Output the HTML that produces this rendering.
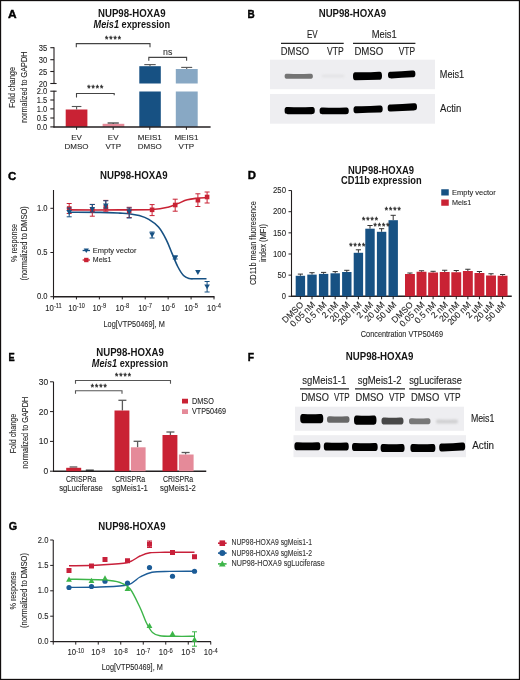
<!DOCTYPE html>
<html><head><meta charset="utf-8"><style>
html,body{margin:0;padding:0;background:#fff;}
svg{display:block;will-change:transform;font-family:"Liberation Sans", sans-serif;}
</style></head><body>
<svg width="520" height="680" viewBox="0 0 520 680" font-family='"Liberation Sans", sans-serif'>
<rect x="0" y="0" width="520" height="680" fill="#fff"/>
<text x="8" y="18.1" font-size="11.4" font-weight="bold" fill="#000" stroke="#000" stroke-width="0.4" textLength="8.6" lengthAdjust="spacingAndGlyphs">A</text>
<text x="98.00" y="17.00" font-size="10.0" font-weight="bold" fill="#151515" textLength="67.50" lengthAdjust="spacingAndGlyphs" >NUP98-HOXA9</text>
<text x="93.5" y="27.7" font-size="10.0" font-weight="bold" fill="#151515" textLength="76.5" lengthAdjust="spacingAndGlyphs"><tspan font-style="italic">Meis1</tspan> expression</text>
<line x1="54.00" y1="47.20" x2="54.00" y2="83.80" stroke="#231f20" stroke-width="1.1"/>
<line x1="54.00" y1="90.70" x2="54.00" y2="127.40" stroke="#231f20" stroke-width="1.1"/>
<line x1="50.30" y1="47.70" x2="54.00" y2="47.70" stroke="#231f20" stroke-width="1.1"/>
<text x="38.70" y="50.70" font-size="8.3" fill="#262626" textLength="8.50" lengthAdjust="spacingAndGlyphs" stroke="#262626" stroke-width="0.1">35</text>
<line x1="50.30" y1="59.70" x2="54.00" y2="59.70" stroke="#231f20" stroke-width="1.1"/>
<text x="38.70" y="62.70" font-size="8.3" fill="#262626" textLength="8.50" lengthAdjust="spacingAndGlyphs" stroke="#262626" stroke-width="0.1">30</text>
<line x1="50.30" y1="71.50" x2="54.00" y2="71.50" stroke="#231f20" stroke-width="1.1"/>
<text x="38.70" y="74.50" font-size="8.3" fill="#262626" textLength="8.50" lengthAdjust="spacingAndGlyphs" stroke="#262626" stroke-width="0.1">25</text>
<line x1="50.30" y1="83.50" x2="56.60" y2="83.50" stroke="#231f20" stroke-width="1.1"/>
<text x="38.70" y="86.50" font-size="8.3" fill="#262626" textLength="8.50" lengthAdjust="spacingAndGlyphs" stroke="#262626" stroke-width="0.1">20</text>
<line x1="50.30" y1="91.20" x2="56.60" y2="91.20" stroke="#231f20" stroke-width="1.1"/>
<text x="36.70" y="94.20" font-size="8.3" fill="#262626" textLength="10.50" lengthAdjust="spacingAndGlyphs" stroke="#262626" stroke-width="0.1">2.0</text>
<line x1="50.30" y1="100.00" x2="54.00" y2="100.00" stroke="#231f20" stroke-width="1.1"/>
<text x="36.70" y="103.00" font-size="8.3" fill="#262626" textLength="10.50" lengthAdjust="spacingAndGlyphs" stroke="#262626" stroke-width="0.1">1.5</text>
<line x1="50.30" y1="108.90" x2="54.00" y2="108.90" stroke="#231f20" stroke-width="1.1"/>
<text x="36.70" y="111.90" font-size="8.3" fill="#262626" textLength="10.50" lengthAdjust="spacingAndGlyphs" stroke="#262626" stroke-width="0.1">1.0</text>
<line x1="50.30" y1="118.00" x2="54.00" y2="118.00" stroke="#231f20" stroke-width="1.1"/>
<text x="36.70" y="121.00" font-size="8.3" fill="#262626" textLength="10.50" lengthAdjust="spacingAndGlyphs" stroke="#262626" stroke-width="0.1">0.5</text>
<line x1="50.30" y1="126.90" x2="54.00" y2="126.90" stroke="#231f20" stroke-width="1.1"/>
<text x="36.70" y="129.90" font-size="8.3" fill="#262626" textLength="10.50" lengthAdjust="spacingAndGlyphs" stroke="#262626" stroke-width="0.1">0.0</text>
<text transform="translate(15.49,87.30) rotate(-90)" x="-20.35" y="0" font-size="8.8" fill="#262626" textLength="40.70" lengthAdjust="spacingAndGlyphs" stroke="#262626" stroke-width="0.1">Fold change</text>
<text transform="translate(26.89,87.30) rotate(-90)" x="-35.75" y="0" font-size="8.8" fill="#262626" textLength="71.50" lengthAdjust="spacingAndGlyphs" stroke="#262626" stroke-width="0.1">normalized to GAPDH</text>
<rect x="65.70" y="109.50" width="21.70" height="17.40" fill="#c92234"/>
<line x1="76.60" y1="106.50" x2="76.60" y2="109.50" stroke="#555" stroke-width="1.1"/>
<line x1="71.80" y1="106.50" x2="81.40" y2="106.50" stroke="#555" stroke-width="1.1"/>
<rect x="102.60" y="123.80" width="21.70" height="3.10" fill="#e58a99"/>
<line x1="113.20" y1="123.00" x2="113.20" y2="123.80" stroke="#333" stroke-width="1.2"/>
<line x1="107.60" y1="123.00" x2="118.80" y2="123.00" stroke="#333" stroke-width="1.2"/>
<rect x="139.30" y="66.20" width="21.50" height="17.30" fill="#175183"/>
<rect x="139.30" y="91.50" width="21.50" height="35.40" fill="#175183"/>
<line x1="150.00" y1="64.60" x2="150.00" y2="66.20" stroke="#555" stroke-width="1.1"/>
<line x1="144.30" y1="64.60" x2="155.70" y2="64.60" stroke="#555" stroke-width="1.1"/>
<rect x="175.80" y="69.00" width="21.90" height="14.50" fill="#88a8c4"/>
<rect x="175.80" y="91.50" width="21.90" height="35.40" fill="#88a8c4"/>
<line x1="186.70" y1="67.40" x2="186.70" y2="69.00" stroke="#555" stroke-width="1.1"/>
<line x1="181.20" y1="67.40" x2="192.20" y2="67.40" stroke="#555" stroke-width="1.1"/>
<line x1="53.50" y1="127.00" x2="210.60" y2="127.00" stroke="#231f20" stroke-width="1.5"/>
<line x1="76.60" y1="127.00" x2="76.60" y2="129.80" stroke="#231f20" stroke-width="1"/>
<line x1="113.20" y1="127.00" x2="113.20" y2="129.80" stroke="#231f20" stroke-width="1"/>
<line x1="149.80" y1="127.00" x2="149.80" y2="129.80" stroke="#231f20" stroke-width="1"/>
<line x1="186.40" y1="127.00" x2="186.40" y2="129.80" stroke="#231f20" stroke-width="1"/>
<text x="76.6" y="140" font-size="8" fill="#262626" text-anchor="middle" stroke="#262626" stroke-width="0.1">EV</text>
<text x="76.6" y="149.2" font-size="8" fill="#262626" text-anchor="middle" stroke="#262626" stroke-width="0.1">DMSO</text>
<text x="113.2" y="140" font-size="8" fill="#262626" text-anchor="middle" stroke="#262626" stroke-width="0.1">EV</text>
<text x="113.2" y="149.2" font-size="8" fill="#262626" text-anchor="middle" stroke="#262626" stroke-width="0.1">VTP</text>
<text x="149.8" y="140" font-size="8" fill="#262626" text-anchor="middle" stroke="#262626" stroke-width="0.1">MEIS1</text>
<text x="149.8" y="149.2" font-size="8" fill="#262626" text-anchor="middle" stroke="#262626" stroke-width="0.1">DMSO</text>
<text x="186.4" y="140" font-size="8" fill="#262626" text-anchor="middle" stroke="#262626" stroke-width="0.1">MEIS1</text>
<text x="186.4" y="149.2" font-size="8" fill="#262626" text-anchor="middle" stroke="#262626" stroke-width="0.1">VTP</text>
<path d="M76.30,47.20 V43.60 H150.00 V47.20" stroke="#444" stroke-width="1.1" fill="none" />
<text x="105.00" y="42.16" font-size="8.5" fill="#2a2a2a" textLength="16.00" lengthAdjust="spacing" stroke="#2a2a2a" stroke-width="0.35">****</text>
<path d="M76.5,97.5 V93.5 H114.2 V95.2" stroke="#444" stroke-width="1.1" fill="none" />
<text x="87.30" y="91.16" font-size="8.5" fill="#2a2a2a" textLength="16.00" lengthAdjust="spacing" stroke="#2a2a2a" stroke-width="0.35">****</text>
<path d="M148.80,60.80 V57.40 H186.60 V60.80" stroke="#444" stroke-width="1.1" fill="none" />
<text x="163.05" y="54.60" font-size="9" font-weight="normal" fill="#333" textLength="9.30" lengthAdjust="spacingAndGlyphs" stroke="#333" stroke-width="0.1">ns</text>
<defs>
<filter id="bl1" x="-20%" y="-100%" width="140%" height="300%"><feGaussianBlur stdDeviation="0.75"/></filter>
<filter id="bl2" x="-20%" y="-100%" width="140%" height="300%"><feGaussianBlur stdDeviation="1.3"/></filter>
</defs>
<text x="247.5" y="18.2" font-size="11.4" font-weight="bold" fill="#000" stroke="#000" stroke-width="0.4" textLength="7.2" lengthAdjust="spacingAndGlyphs">B</text>
<text x="318.70" y="17.00" font-size="10.0" font-weight="bold" fill="#151515" textLength="67.30" lengthAdjust="spacingAndGlyphs" >NUP98-HOXA9</text>
<text x="307.00" y="38.00" font-size="10.0" font-weight="normal" fill="#1e1e1e" textLength="10.70" lengthAdjust="spacingAndGlyphs"  stroke="#1e1e1e" stroke-width="0.12">EV</text>
<text x="371.70" y="38.00" font-size="10.0" font-weight="normal" fill="#1e1e1e" textLength="25.00" lengthAdjust="spacingAndGlyphs"  stroke="#1e1e1e" stroke-width="0.12">Meis1</text>
<line x1="281.00" y1="43.40" x2="343.70" y2="43.40" stroke="#222" stroke-width="1.3"/>
<line x1="353.00" y1="43.40" x2="415.40" y2="43.40" stroke="#222" stroke-width="1.3"/>
<text x="280.80" y="54.80" font-size="10.0" font-weight="normal" fill="#1e1e1e" textLength="28.20" lengthAdjust="spacingAndGlyphs"  stroke="#1e1e1e" stroke-width="0.12">DMSO</text>
<text x="327.00" y="54.80" font-size="10.0" font-weight="normal" fill="#1e1e1e" textLength="16.70" lengthAdjust="spacingAndGlyphs"  stroke="#1e1e1e" stroke-width="0.12">VTP</text>
<text x="354.40" y="54.80" font-size="10.0" font-weight="normal" fill="#1e1e1e" textLength="28.90" lengthAdjust="spacingAndGlyphs"  stroke="#1e1e1e" stroke-width="0.12">DMSO</text>
<text x="398.70" y="54.80" font-size="10.0" font-weight="normal" fill="#1e1e1e" textLength="16.30" lengthAdjust="spacingAndGlyphs"  stroke="#1e1e1e" stroke-width="0.12">VTP</text>
<rect x="270.00" y="59.70" width="165.00" height="29.50" fill="#eeeef1"/>
<rect x="270.00" y="94.00" width="165.00" height="29.70" fill="#eeeef1"/>
<path d="M284.60,76.20 C284.60,73.58 286.35,73.70 288.10,73.70 Q298.75,74.08 309.40,73.70 C311.15,73.70 312.90,73.58 312.90,76.20 C312.90,78.83 311.15,78.70 309.40,78.70 Q298.75,78.70 288.10,78.70 C286.35,78.70 284.60,78.83 284.60,76.20 Z" fill="#666" fill-opacity="0.9" filter="url(#bl1)"/>
<path d="M321.50,76.00 C321.50,74.69 323.25,74.75 325.00,74.75 Q333.05,74.94 341.10,74.75 C342.85,74.75 344.60,74.69 344.60,76.00 C344.60,77.31 342.85,77.25 341.10,77.25 Q333.05,77.25 325.00,77.25 C323.25,77.25 321.50,77.31 321.50,76.00 Z" fill="#ccc" fill-opacity="0.35" filter="url(#bl2)"/>
<path d="M353.00,76.25 C353.00,71.94 354.75,72.15 356.50,72.15 Q367.50,72.52 378.50,71.65 C380.25,71.65 382.00,71.44 382.00,75.75 C382.00,80.06 380.25,79.85 378.50,79.85 Q367.50,80.10 356.50,80.35 C354.75,80.35 353.00,80.56 353.00,76.25 Z" fill="#000" fill-opacity="1.0" filter="url(#bl1)"/>
<path d="M388.00,75.10 C388.00,71.63 389.75,71.80 391.50,71.80 Q401.70,71.69 411.90,70.60 C413.65,70.60 415.40,70.44 415.40,73.90 C415.40,77.37 413.65,77.20 411.90,77.20 Q401.70,77.80 391.50,78.40 C389.75,78.40 388.00,78.56 388.00,75.10 Z" fill="#000" fill-opacity="1.0" filter="url(#bl1)"/>
<path d="M284.60,110.60 C284.60,106.82 286.35,107.00 288.10,107.00 Q299.70,107.54 311.30,107.00 C313.05,107.00 314.80,106.82 314.80,110.60 C314.80,114.38 313.05,114.20 311.30,114.20 Q299.70,114.20 288.10,114.20 C286.35,114.20 284.60,114.38 284.60,110.60 Z" fill="#000" fill-opacity="1.0" filter="url(#bl1)"/>
<path d="M319.60,110.80 C319.60,107.23 321.35,107.40 323.10,107.40 Q334.20,107.91 345.30,107.40 C347.05,107.40 348.80,107.23 348.80,110.80 C348.80,114.37 347.05,114.20 345.30,114.20 Q334.20,114.20 323.10,114.20 C321.35,114.20 319.60,114.37 319.60,110.80 Z" fill="#000" fill-opacity="1.0" filter="url(#bl1)"/>
<path d="M353.50,109.70 C353.50,106.03 355.25,106.20 357.00,106.20 Q368.10,106.43 379.20,105.60 C380.95,105.60 382.70,105.43 382.70,109.10 C382.70,112.78 380.95,112.60 379.20,112.60 Q368.10,112.90 357.00,113.20 C355.25,113.20 353.50,113.38 353.50,109.70 Z" fill="#000" fill-opacity="1.0" filter="url(#bl1)"/>
<path d="M387.70,108.00 C387.70,104.22 389.45,104.40 391.20,104.40 Q402.35,104.34 413.50,103.20 C415.25,103.20 417.00,103.02 417.00,106.80 C417.00,110.58 415.25,110.40 413.50,110.40 Q402.35,111.00 391.20,111.60 C389.45,111.60 387.70,111.78 387.70,108.00 Z" fill="#000" fill-opacity="1.0" filter="url(#bl1)"/>
<text x="439.80" y="77.70" font-size="10.0" font-weight="normal" fill="#1e1e1e" textLength="24.40" lengthAdjust="spacingAndGlyphs"  stroke="#1e1e1e" stroke-width="0.12">Meis1</text>
<text x="440.00" y="112.10" font-size="10.0" font-weight="normal" fill="#1e1e1e" textLength="21.30" lengthAdjust="spacingAndGlyphs"  stroke="#1e1e1e" stroke-width="0.12">Actin</text>
<text x="8" y="179.6" font-size="11.4" font-weight="bold" fill="#000" stroke="#000" stroke-width="0.4" textLength="8.3" lengthAdjust="spacingAndGlyphs">C</text>
<text x="100.00" y="179.20" font-size="10.0" font-weight="bold" fill="#151515" textLength="67.50" lengthAdjust="spacingAndGlyphs" >NUP98-HOXA9</text>
<line x1="53.50" y1="190.00" x2="53.50" y2="297.20" stroke="#231f20" stroke-width="1.1"/>
<line x1="50.40" y1="208.30" x2="53.50" y2="208.30" stroke="#231f20" stroke-width="1"/>
<text x="37.00" y="210.80" font-size="9.3" fill="#262626" textLength="10.60" lengthAdjust="spacingAndGlyphs" stroke="#262626" stroke-width="0.1">1.0</text>
<line x1="50.40" y1="252.50" x2="53.50" y2="252.50" stroke="#231f20" stroke-width="1"/>
<text x="37.00" y="255.00" font-size="9.3" fill="#262626" textLength="10.60" lengthAdjust="spacingAndGlyphs" stroke="#262626" stroke-width="0.1">0.5</text>
<line x1="50.40" y1="296.70" x2="53.50" y2="296.70" stroke="#231f20" stroke-width="1"/>
<text x="37.00" y="299.20" font-size="9.3" fill="#262626" textLength="10.60" lengthAdjust="spacingAndGlyphs" stroke="#262626" stroke-width="0.1">0.0</text>
<text transform="translate(17.32,243.00) rotate(-90)" x="-19.00" y="0" font-size="9.3" fill="#262626" textLength="38.00" lengthAdjust="spacingAndGlyphs" stroke="#262626" stroke-width="0.1">% response</text>
<text transform="translate(27.02,243.40) rotate(-90)" x="-37.20" y="0" font-size="9.3" fill="#262626" textLength="74.40" lengthAdjust="spacingAndGlyphs" stroke="#262626" stroke-width="0.1">(normalized to DMSO)</text>
<line x1="53.00" y1="296.70" x2="214.50" y2="296.70" stroke="#231f20" stroke-width="1.45"/>
<line x1="53.50" y1="296.70" x2="53.50" y2="299.40" stroke="#231f20" stroke-width="1"/>
<text x="45.30" y="310.80" font-size="9.3" font-weight="normal" fill="#262626" textLength="8.60" lengthAdjust="spacingAndGlyphs"  stroke="#262626" stroke-width="0.1">10</text>
<text x="53.90" y="307.90" font-size="6.882000000000001" font-weight="normal" fill="#262626" textLength="7.80" lengthAdjust="spacingAndGlyphs"  stroke="#262626" stroke-width="0.1">-11</text>
<line x1="76.43" y1="296.70" x2="76.43" y2="299.40" stroke="#231f20" stroke-width="1"/>
<text x="68.23" y="310.80" font-size="9.3" font-weight="normal" fill="#262626" textLength="8.60" lengthAdjust="spacingAndGlyphs"  stroke="#262626" stroke-width="0.1">10</text>
<text x="76.83" y="307.90" font-size="6.882000000000001" font-weight="normal" fill="#262626" textLength="7.80" lengthAdjust="spacingAndGlyphs"  stroke="#262626" stroke-width="0.1">-10</text>
<line x1="99.36" y1="296.70" x2="99.36" y2="299.40" stroke="#231f20" stroke-width="1"/>
<text x="92.46" y="310.80" font-size="9.3" font-weight="normal" fill="#262626" textLength="8.60" lengthAdjust="spacingAndGlyphs"  stroke="#262626" stroke-width="0.1">10</text>
<text x="101.06" y="307.90" font-size="6.882000000000001" font-weight="normal" fill="#262626" textLength="5.20" lengthAdjust="spacingAndGlyphs"  stroke="#262626" stroke-width="0.1">-9</text>
<line x1="122.29" y1="296.70" x2="122.29" y2="299.40" stroke="#231f20" stroke-width="1"/>
<text x="115.39" y="310.80" font-size="9.3" font-weight="normal" fill="#262626" textLength="8.60" lengthAdjust="spacingAndGlyphs"  stroke="#262626" stroke-width="0.1">10</text>
<text x="123.99" y="307.90" font-size="6.882000000000001" font-weight="normal" fill="#262626" textLength="5.20" lengthAdjust="spacingAndGlyphs"  stroke="#262626" stroke-width="0.1">-8</text>
<line x1="145.22" y1="296.70" x2="145.22" y2="299.40" stroke="#231f20" stroke-width="1"/>
<text x="138.32" y="310.80" font-size="9.3" font-weight="normal" fill="#262626" textLength="8.60" lengthAdjust="spacingAndGlyphs"  stroke="#262626" stroke-width="0.1">10</text>
<text x="146.92" y="307.90" font-size="6.882000000000001" font-weight="normal" fill="#262626" textLength="5.20" lengthAdjust="spacingAndGlyphs"  stroke="#262626" stroke-width="0.1">-7</text>
<line x1="168.15" y1="296.70" x2="168.15" y2="299.40" stroke="#231f20" stroke-width="1"/>
<text x="161.25" y="310.80" font-size="9.3" font-weight="normal" fill="#262626" textLength="8.60" lengthAdjust="spacingAndGlyphs"  stroke="#262626" stroke-width="0.1">10</text>
<text x="169.85" y="307.90" font-size="6.882000000000001" font-weight="normal" fill="#262626" textLength="5.20" lengthAdjust="spacingAndGlyphs"  stroke="#262626" stroke-width="0.1">-6</text>
<line x1="191.08" y1="296.70" x2="191.08" y2="299.40" stroke="#231f20" stroke-width="1"/>
<text x="184.18" y="310.80" font-size="9.3" font-weight="normal" fill="#262626" textLength="8.60" lengthAdjust="spacingAndGlyphs"  stroke="#262626" stroke-width="0.1">10</text>
<text x="192.78" y="307.90" font-size="6.882000000000001" font-weight="normal" fill="#262626" textLength="5.20" lengthAdjust="spacingAndGlyphs"  stroke="#262626" stroke-width="0.1">-5</text>
<line x1="214.01" y1="296.70" x2="214.01" y2="299.40" stroke="#231f20" stroke-width="1"/>
<text x="207.11" y="310.80" font-size="9.3" font-weight="normal" fill="#262626" textLength="8.60" lengthAdjust="spacingAndGlyphs"  stroke="#262626" stroke-width="0.1">10</text>
<text x="215.71" y="307.90" font-size="6.882000000000001" font-weight="normal" fill="#262626" textLength="5.20" lengthAdjust="spacingAndGlyphs"  stroke="#262626" stroke-width="0.1">-4</text>
<text x="103.50" y="326.70" font-size="9.8" font-weight="normal" fill="#262626" textLength="61.30" lengthAdjust="spacingAndGlyphs"  stroke="#262626" stroke-width="0.1">Log[VTP50469], M</text>
<path d="M69.20,212.30 C74.33,212.32 91.53,212.27 100.00,212.40 C108.47,212.53 115.17,212.88 120.00,213.10 C124.83,213.32 125.80,213.28 129.00,213.70 C132.20,214.12 135.90,214.65 139.20,215.60 C142.50,216.55 145.58,217.48 148.80,219.40 C152.02,221.32 155.60,223.73 158.50,227.10 C161.40,230.47 163.97,235.27 166.20,239.60 C168.43,243.93 169.98,248.62 171.90,253.10 C173.82,257.58 175.77,262.77 177.70,266.50 C179.63,270.23 181.58,273.50 183.50,275.50 C185.42,277.50 187.28,277.95 189.20,278.50 C191.12,279.05 192.12,278.75 195.00,278.80 C197.88,278.85 204.58,278.80 206.50,278.80" stroke="#175183" stroke-width="1.6" fill="none" />
<path d="M69.20,209.90 C77.67,209.90 106.18,209.97 120.00,209.90 C133.82,209.83 144.10,209.95 152.10,209.50 C160.10,209.05 163.73,208.18 168.00,207.20 C172.27,206.22 174.48,204.83 177.70,203.60 C180.92,202.37 184.10,200.68 187.30,199.80 C190.50,198.92 193.70,198.65 196.90,198.30 C200.10,197.95 204.90,197.80 206.50,197.70" stroke="#c92234" stroke-width="1.6" fill="none" />
<line x1="69.20" y1="203.50" x2="69.20" y2="213.50" stroke="#c92234" stroke-width="1"/>
<line x1="66.70" y1="203.50" x2="71.70" y2="203.50" stroke="#c92234" stroke-width="1"/>
<line x1="66.70" y1="213.50" x2="71.70" y2="213.50" stroke="#c92234" stroke-width="1"/>
<rect x="66.90" y="206.20" width="4.60" height="4.60" fill="#c92234"/>
<line x1="92.30" y1="204.40" x2="92.30" y2="216.20" stroke="#c92234" stroke-width="1"/>
<line x1="89.80" y1="204.40" x2="94.80" y2="204.40" stroke="#c92234" stroke-width="1"/>
<line x1="89.80" y1="216.20" x2="94.80" y2="216.20" stroke="#c92234" stroke-width="1"/>
<rect x="90.00" y="208.10" width="4.60" height="4.60" fill="#c92234"/>
<line x1="105.80" y1="200.40" x2="105.80" y2="211.20" stroke="#c92234" stroke-width="1"/>
<line x1="103.30" y1="200.40" x2="108.30" y2="200.40" stroke="#c92234" stroke-width="1"/>
<line x1="103.30" y1="211.20" x2="108.30" y2="211.20" stroke="#c92234" stroke-width="1"/>
<rect x="103.50" y="205.00" width="4.60" height="4.60" fill="#c92234"/>
<line x1="129.20" y1="207.30" x2="129.20" y2="217.50" stroke="#c92234" stroke-width="1"/>
<line x1="126.70" y1="207.30" x2="131.70" y2="207.30" stroke="#c92234" stroke-width="1"/>
<line x1="126.70" y1="217.50" x2="131.70" y2="217.50" stroke="#c92234" stroke-width="1"/>
<rect x="126.90" y="208.70" width="4.60" height="4.60" fill="#c92234"/>
<line x1="152.10" y1="204.60" x2="152.10" y2="215.60" stroke="#c92234" stroke-width="1"/>
<line x1="149.60" y1="204.60" x2="154.60" y2="204.60" stroke="#c92234" stroke-width="1"/>
<line x1="149.60" y1="215.60" x2="154.60" y2="215.60" stroke="#c92234" stroke-width="1"/>
<rect x="149.80" y="207.50" width="4.60" height="4.60" fill="#c92234"/>
<line x1="175.20" y1="199.20" x2="175.20" y2="211.20" stroke="#c92234" stroke-width="1"/>
<line x1="172.70" y1="199.20" x2="177.70" y2="199.20" stroke="#c92234" stroke-width="1"/>
<line x1="172.70" y1="211.20" x2="177.70" y2="211.20" stroke="#c92234" stroke-width="1"/>
<rect x="172.90" y="202.70" width="4.60" height="4.60" fill="#c92234"/>
<line x1="197.90" y1="193.80" x2="197.90" y2="206.50" stroke="#c92234" stroke-width="1"/>
<line x1="195.40" y1="193.80" x2="200.40" y2="193.80" stroke="#c92234" stroke-width="1"/>
<line x1="195.40" y1="206.50" x2="200.40" y2="206.50" stroke="#c92234" stroke-width="1"/>
<rect x="195.60" y="197.90" width="4.60" height="4.60" fill="#c92234"/>
<line x1="207.10" y1="192.00" x2="207.10" y2="203.00" stroke="#c92234" stroke-width="1"/>
<line x1="204.60" y1="192.00" x2="209.60" y2="192.00" stroke="#c92234" stroke-width="1"/>
<line x1="204.60" y1="203.00" x2="209.60" y2="203.00" stroke="#c92234" stroke-width="1"/>
<rect x="204.80" y="194.70" width="4.60" height="4.60" fill="#c92234"/>
<line x1="69.20" y1="208.00" x2="69.20" y2="216.80" stroke="#175183" stroke-width="1"/>
<line x1="66.70" y1="208.00" x2="71.70" y2="208.00" stroke="#175183" stroke-width="1"/>
<line x1="66.70" y1="216.80" x2="71.70" y2="216.80" stroke="#175183" stroke-width="1"/>
<path d="M66.40,210.10 H72.00 L69.20,215.00 Z" fill="#175183"/>
<line x1="92.30" y1="204.50" x2="92.30" y2="212.00" stroke="#175183" stroke-width="1"/>
<line x1="89.80" y1="204.50" x2="94.80" y2="204.50" stroke="#175183" stroke-width="1"/>
<line x1="89.80" y1="212.00" x2="94.80" y2="212.00" stroke="#175183" stroke-width="1"/>
<path d="M89.50,206.90 H95.10 L92.30,211.80 Z" fill="#175183"/>
<line x1="105.80" y1="200.80" x2="105.80" y2="208.00" stroke="#175183" stroke-width="1"/>
<line x1="103.30" y1="200.80" x2="108.30" y2="200.80" stroke="#175183" stroke-width="1"/>
<line x1="103.30" y1="208.00" x2="108.30" y2="208.00" stroke="#175183" stroke-width="1"/>
<path d="M103.00,203.50 H108.60 L105.80,208.40 Z" fill="#175183"/>
<line x1="129.20" y1="208.00" x2="129.20" y2="218.00" stroke="#175183" stroke-width="1"/>
<line x1="126.70" y1="208.00" x2="131.70" y2="208.00" stroke="#175183" stroke-width="1"/>
<line x1="126.70" y1="218.00" x2="131.70" y2="218.00" stroke="#175183" stroke-width="1"/>
<path d="M126.40,209.60 H132.00 L129.20,214.50 Z" fill="#175183"/>
<line x1="152.10" y1="232.00" x2="152.10" y2="238.00" stroke="#175183" stroke-width="1"/>
<line x1="149.60" y1="232.00" x2="154.60" y2="232.00" stroke="#175183" stroke-width="1"/>
<line x1="149.60" y1="238.00" x2="154.60" y2="238.00" stroke="#175183" stroke-width="1"/>
<path d="M149.30,232.50 H154.90 L152.10,237.40 Z" fill="#175183"/>
<line x1="175.20" y1="256.00" x2="175.20" y2="259.00" stroke="#175183" stroke-width="1"/>
<line x1="172.70" y1="256.00" x2="177.70" y2="256.00" stroke="#175183" stroke-width="1"/>
<line x1="172.70" y1="259.00" x2="177.70" y2="259.00" stroke="#175183" stroke-width="1"/>
<path d="M172.40,255.60 H178.00 L175.20,260.50 Z" fill="#175183"/>
<path d="M195.10,270.00 H200.70 L197.90,274.90 Z" fill="#175183"/>
<line x1="207.10" y1="281.50" x2="207.10" y2="292.00" stroke="#175183" stroke-width="1"/>
<line x1="204.60" y1="281.50" x2="209.60" y2="281.50" stroke="#175183" stroke-width="1"/>
<line x1="204.60" y1="292.00" x2="209.60" y2="292.00" stroke="#175183" stroke-width="1"/>
<path d="M204.30,284.40 H209.90 L207.10,289.30 Z" fill="#175183"/>
<line x1="82.60" y1="250.50" x2="90.00" y2="250.50" stroke="#175183" stroke-width="1.3"/>
<path d="M83.70,248.40 H88.90 L86.3,252.90 Z" fill="#175183"/>
<line x1="82.60" y1="260.00" x2="90.00" y2="260.00" stroke="#c92234" stroke-width="1.3"/>
<rect x="84.10" y="257.80" width="4.40" height="4.40" fill="#c92234"/>
<text x="92.80" y="253.00" font-size="7.9" font-weight="normal" fill="#262626" textLength="43.70" lengthAdjust="spacingAndGlyphs"  stroke="#262626" stroke-width="0.1">Empty vector</text>
<text x="92.80" y="262.30" font-size="7.9" font-weight="normal" fill="#262626" textLength="18.70" lengthAdjust="spacingAndGlyphs"  stroke="#262626" stroke-width="0.1">Meis1</text>
<text x="247.7" y="178.7" font-size="11.4" font-weight="bold" fill="#000" stroke="#000" stroke-width="0.4" textLength="8.2" lengthAdjust="spacingAndGlyphs">D</text>
<text x="348.00" y="173.50" font-size="10.0" font-weight="bold" fill="#151515" textLength="66.00" lengthAdjust="spacingAndGlyphs" >NUP98-HOXA9</text>
<text x="341.00" y="184.40" font-size="10.0" font-weight="bold" fill="#151515" textLength="80.70" lengthAdjust="spacingAndGlyphs" >CD11b expression</text>
<line x1="291.50" y1="190.40" x2="291.50" y2="296.80" stroke="#231f20" stroke-width="1.1"/>
<line x1="288.50" y1="296.30" x2="291.50" y2="296.30" stroke="#231f20" stroke-width="1"/>
<text x="281.80" y="299.00" font-size="9.3" fill="#262626" textLength="4.20" lengthAdjust="spacingAndGlyphs" stroke="#262626" stroke-width="0.1">0</text>
<line x1="288.50" y1="275.15" x2="291.50" y2="275.15" stroke="#231f20" stroke-width="1"/>
<text x="277.40" y="277.85" font-size="9.3" fill="#262626" textLength="8.60" lengthAdjust="spacingAndGlyphs" stroke="#262626" stroke-width="0.1">50</text>
<line x1="288.50" y1="254.00" x2="291.50" y2="254.00" stroke="#231f20" stroke-width="1"/>
<text x="273.00" y="256.70" font-size="9.3" fill="#262626" textLength="13.00" lengthAdjust="spacingAndGlyphs" stroke="#262626" stroke-width="0.1">100</text>
<line x1="288.50" y1="232.85" x2="291.50" y2="232.85" stroke="#231f20" stroke-width="1"/>
<text x="273.00" y="235.55" font-size="9.3" fill="#262626" textLength="13.00" lengthAdjust="spacingAndGlyphs" stroke="#262626" stroke-width="0.1">150</text>
<line x1="288.50" y1="211.70" x2="291.50" y2="211.70" stroke="#231f20" stroke-width="1"/>
<text x="273.00" y="214.40" font-size="9.3" fill="#262626" textLength="13.00" lengthAdjust="spacingAndGlyphs" stroke="#262626" stroke-width="0.1">200</text>
<line x1="288.50" y1="190.55" x2="291.50" y2="190.55" stroke="#231f20" stroke-width="1"/>
<text x="273.00" y="193.25" font-size="9.3" fill="#262626" textLength="13.00" lengthAdjust="spacingAndGlyphs" stroke="#262626" stroke-width="0.1">250</text>
<text transform="translate(255.62,243.10) rotate(-90)" x="-42.00" y="0" font-size="9.3" fill="#262626" textLength="84.00" lengthAdjust="spacingAndGlyphs" stroke="#262626" stroke-width="0.1">CD11b mean fluoresence</text>
<text transform="translate(266.22,243.00) rotate(-90)" x="-19.00" y="0" font-size="9.3" fill="#262626" textLength="38.00" lengthAdjust="spacingAndGlyphs" stroke="#262626" stroke-width="0.1">index (MFI)</text>
<line x1="291.00" y1="296.30" x2="511.75" y2="296.30" stroke="#231f20" stroke-width="1.45"/>
<line x1="300.40" y1="274.10" x2="300.40" y2="275.80" stroke="#333" stroke-width="1"/>
<line x1="297.80" y1="274.10" x2="303.00" y2="274.10" stroke="#333" stroke-width="1"/>
<rect x="295.70" y="275.80" width="9.40" height="20.50" fill="#175183"/>
<line x1="300.40" y1="296.30" x2="300.40" y2="299.30" stroke="#231f20" stroke-width="1"/>
<text transform="translate(304.00,305.10) rotate(-45)" x="0" y="0" font-size="8.7" fill="#262626" text-anchor="end" stroke="#262626" stroke-width="0.1">DMSO</text>
<line x1="312.00" y1="272.70" x2="312.00" y2="274.60" stroke="#333" stroke-width="1"/>
<line x1="309.40" y1="272.70" x2="314.60" y2="272.70" stroke="#333" stroke-width="1"/>
<rect x="307.30" y="274.60" width="9.40" height="21.70" fill="#175183"/>
<line x1="312.00" y1="296.30" x2="312.00" y2="299.30" stroke="#231f20" stroke-width="1"/>
<text transform="translate(315.60,305.10) rotate(-45)" x="0" y="0" font-size="8.7" fill="#262626" text-anchor="end" stroke="#262626" stroke-width="0.1">0.05 nM</text>
<line x1="323.60" y1="272.40" x2="323.60" y2="273.90" stroke="#333" stroke-width="1"/>
<line x1="321.00" y1="272.40" x2="326.20" y2="272.40" stroke="#333" stroke-width="1"/>
<rect x="318.90" y="273.90" width="9.40" height="22.40" fill="#175183"/>
<line x1="323.60" y1="296.30" x2="323.60" y2="299.30" stroke="#231f20" stroke-width="1"/>
<text transform="translate(327.20,305.10) rotate(-45)" x="0" y="0" font-size="8.7" fill="#262626" text-anchor="end" stroke="#262626" stroke-width="0.1">0.5 nM</text>
<line x1="335.20" y1="271.60" x2="335.20" y2="273.30" stroke="#333" stroke-width="1"/>
<line x1="332.60" y1="271.60" x2="337.80" y2="271.60" stroke="#333" stroke-width="1"/>
<rect x="330.50" y="273.30" width="9.40" height="23.00" fill="#175183"/>
<line x1="335.20" y1="296.30" x2="335.20" y2="299.30" stroke="#231f20" stroke-width="1"/>
<text transform="translate(338.80,305.10) rotate(-45)" x="0" y="0" font-size="8.7" fill="#262626" text-anchor="end" stroke="#262626" stroke-width="0.1">2 nM</text>
<line x1="346.80" y1="270.30" x2="346.80" y2="272.00" stroke="#333" stroke-width="1"/>
<line x1="344.20" y1="270.30" x2="349.40" y2="270.30" stroke="#333" stroke-width="1"/>
<rect x="342.10" y="272.00" width="9.40" height="24.30" fill="#175183"/>
<line x1="346.80" y1="296.30" x2="346.80" y2="299.30" stroke="#231f20" stroke-width="1"/>
<text transform="translate(350.40,305.10) rotate(-45)" x="0" y="0" font-size="8.7" fill="#262626" text-anchor="end" stroke="#262626" stroke-width="0.1">20 nM</text>
<line x1="358.40" y1="249.80" x2="358.40" y2="252.80" stroke="#333" stroke-width="1"/>
<line x1="355.80" y1="249.80" x2="361.00" y2="249.80" stroke="#333" stroke-width="1"/>
<rect x="353.70" y="252.80" width="9.40" height="43.50" fill="#175183"/>
<line x1="358.40" y1="296.30" x2="358.40" y2="299.30" stroke="#231f20" stroke-width="1"/>
<text transform="translate(362.00,305.10) rotate(-45)" x="0" y="0" font-size="8.7" fill="#262626" text-anchor="end" stroke="#262626" stroke-width="0.1">200 nM</text>
<line x1="370.00" y1="225.50" x2="370.00" y2="228.70" stroke="#333" stroke-width="1"/>
<line x1="367.40" y1="225.50" x2="372.60" y2="225.50" stroke="#333" stroke-width="1"/>
<rect x="365.30" y="228.70" width="9.40" height="67.60" fill="#175183"/>
<line x1="370.00" y1="296.30" x2="370.00" y2="299.30" stroke="#231f20" stroke-width="1"/>
<text transform="translate(373.60,305.10) rotate(-45)" x="0" y="0" font-size="8.7" fill="#262626" text-anchor="end" stroke="#262626" stroke-width="0.1">2 uM</text>
<line x1="381.60" y1="228.70" x2="381.60" y2="231.80" stroke="#333" stroke-width="1"/>
<line x1="379.00" y1="228.70" x2="384.20" y2="228.70" stroke="#333" stroke-width="1"/>
<rect x="376.90" y="231.80" width="9.40" height="64.50" fill="#175183"/>
<line x1="381.60" y1="296.30" x2="381.60" y2="299.30" stroke="#231f20" stroke-width="1"/>
<text transform="translate(385.20,305.10) rotate(-45)" x="0" y="0" font-size="8.7" fill="#262626" text-anchor="end" stroke="#262626" stroke-width="0.1">20 uM</text>
<line x1="393.20" y1="215.30" x2="393.20" y2="220.20" stroke="#333" stroke-width="1"/>
<line x1="390.60" y1="215.30" x2="395.80" y2="215.30" stroke="#333" stroke-width="1"/>
<rect x="388.50" y="220.20" width="9.40" height="76.10" fill="#175183"/>
<line x1="393.20" y1="296.30" x2="393.20" y2="299.30" stroke="#231f20" stroke-width="1"/>
<text transform="translate(396.80,305.10) rotate(-45)" x="0" y="0" font-size="8.7" fill="#262626" text-anchor="end" stroke="#262626" stroke-width="0.1">50 uM</text>
<line x1="409.95" y1="273.00" x2="409.95" y2="274.00" stroke="#333" stroke-width="1"/>
<line x1="407.35" y1="273.00" x2="412.55" y2="273.00" stroke="#333" stroke-width="1"/>
<rect x="405.00" y="274.00" width="9.90" height="22.30" fill="#c92234"/>
<line x1="409.95" y1="296.30" x2="409.95" y2="299.30" stroke="#231f20" stroke-width="1"/>
<text transform="translate(413.55,305.10) rotate(-45)" x="0" y="0" font-size="8.7" fill="#262626" text-anchor="end" stroke="#262626" stroke-width="0.1">DMSO</text>
<line x1="421.53" y1="270.75" x2="421.53" y2="271.75" stroke="#333" stroke-width="1"/>
<line x1="418.93" y1="270.75" x2="424.13" y2="270.75" stroke="#333" stroke-width="1"/>
<rect x="416.58" y="271.75" width="9.90" height="24.55" fill="#c92234"/>
<line x1="421.53" y1="296.30" x2="421.53" y2="299.30" stroke="#231f20" stroke-width="1"/>
<text transform="translate(425.13,305.10) rotate(-45)" x="0" y="0" font-size="8.7" fill="#262626" text-anchor="end" stroke="#262626" stroke-width="0.1">0.05 nM</text>
<line x1="433.11" y1="271.30" x2="433.11" y2="272.50" stroke="#333" stroke-width="1"/>
<line x1="430.51" y1="271.30" x2="435.71" y2="271.30" stroke="#333" stroke-width="1"/>
<rect x="428.16" y="272.50" width="9.90" height="23.80" fill="#c92234"/>
<line x1="433.11" y1="296.30" x2="433.11" y2="299.30" stroke="#231f20" stroke-width="1"/>
<text transform="translate(436.71,305.10) rotate(-45)" x="0" y="0" font-size="8.7" fill="#262626" text-anchor="end" stroke="#262626" stroke-width="0.1">0.5 nM</text>
<line x1="444.69" y1="270.25" x2="444.69" y2="272.00" stroke="#333" stroke-width="1"/>
<line x1="442.09" y1="270.25" x2="447.29" y2="270.25" stroke="#333" stroke-width="1"/>
<rect x="439.74" y="272.00" width="9.90" height="24.30" fill="#c92234"/>
<line x1="444.69" y1="296.30" x2="444.69" y2="299.30" stroke="#231f20" stroke-width="1"/>
<text transform="translate(448.29,305.10) rotate(-45)" x="0" y="0" font-size="8.7" fill="#262626" text-anchor="end" stroke="#262626" stroke-width="0.1">2 nM</text>
<line x1="456.27" y1="270.50" x2="456.27" y2="272.25" stroke="#333" stroke-width="1"/>
<line x1="453.67" y1="270.50" x2="458.87" y2="270.50" stroke="#333" stroke-width="1"/>
<rect x="451.32" y="272.25" width="9.90" height="24.05" fill="#c92234"/>
<line x1="456.27" y1="296.30" x2="456.27" y2="299.30" stroke="#231f20" stroke-width="1"/>
<text transform="translate(459.87,305.10) rotate(-45)" x="0" y="0" font-size="8.7" fill="#262626" text-anchor="end" stroke="#262626" stroke-width="0.1">20 nM</text>
<line x1="467.85" y1="269.25" x2="467.85" y2="271.00" stroke="#333" stroke-width="1"/>
<line x1="465.25" y1="269.25" x2="470.45" y2="269.25" stroke="#333" stroke-width="1"/>
<rect x="462.90" y="271.00" width="9.90" height="25.30" fill="#c92234"/>
<line x1="467.85" y1="296.30" x2="467.85" y2="299.30" stroke="#231f20" stroke-width="1"/>
<text transform="translate(471.45,305.10) rotate(-45)" x="0" y="0" font-size="8.7" fill="#262626" text-anchor="end" stroke="#262626" stroke-width="0.1">200 nM</text>
<line x1="479.43" y1="271.50" x2="479.43" y2="273.00" stroke="#333" stroke-width="1"/>
<line x1="476.83" y1="271.50" x2="482.03" y2="271.50" stroke="#333" stroke-width="1"/>
<rect x="474.48" y="273.00" width="9.90" height="23.30" fill="#c92234"/>
<line x1="479.43" y1="296.30" x2="479.43" y2="299.30" stroke="#231f20" stroke-width="1"/>
<text transform="translate(483.03,305.10) rotate(-45)" x="0" y="0" font-size="8.7" fill="#262626" text-anchor="end" stroke="#262626" stroke-width="0.1">2 uM</text>
<line x1="491.01" y1="273.75" x2="491.01" y2="275.50" stroke="#333" stroke-width="1"/>
<line x1="488.41" y1="273.75" x2="493.61" y2="273.75" stroke="#333" stroke-width="1"/>
<rect x="486.06" y="275.50" width="9.90" height="20.80" fill="#c92234"/>
<line x1="491.01" y1="296.30" x2="491.01" y2="299.30" stroke="#231f20" stroke-width="1"/>
<text transform="translate(494.61,305.10) rotate(-45)" x="0" y="0" font-size="8.7" fill="#262626" text-anchor="end" stroke="#262626" stroke-width="0.1">20 uM</text>
<line x1="502.59" y1="274.50" x2="502.59" y2="275.75" stroke="#333" stroke-width="1"/>
<line x1="499.99" y1="274.50" x2="505.19" y2="274.50" stroke="#333" stroke-width="1"/>
<rect x="497.64" y="275.75" width="9.90" height="20.55" fill="#c92234"/>
<line x1="502.59" y1="296.30" x2="502.59" y2="299.30" stroke="#231f20" stroke-width="1"/>
<text transform="translate(506.19,305.10) rotate(-45)" x="0" y="0" font-size="8.7" fill="#262626" text-anchor="end" stroke="#262626" stroke-width="0.1">50 uM</text>
<text x="349.30" y="248.56" font-size="8.5" fill="#2a2a2a" textLength="16.00" lengthAdjust="spacing" stroke="#2a2a2a" stroke-width="0.35">****</text>
<text x="362.00" y="223.16" font-size="8.5" fill="#2a2a2a" textLength="16.00" lengthAdjust="spacing" stroke="#2a2a2a" stroke-width="0.35">****</text>
<text x="373.50" y="229.26" font-size="8.5" fill="#2a2a2a" textLength="16.00" lengthAdjust="spacing" stroke="#2a2a2a" stroke-width="0.35">****</text>
<text x="384.70" y="213.06" font-size="8.5" fill="#2a2a2a" textLength="16.00" lengthAdjust="spacing" stroke="#2a2a2a" stroke-width="0.35">****</text>
<text x="360.80" y="337.00" font-size="9.8" font-weight="normal" fill="#262626" textLength="82.20" lengthAdjust="spacingAndGlyphs"  stroke="#262626" stroke-width="0.1">Concentration VTP50469</text>
<rect x="441.25" y="189.25" width="7.50" height="6.25" fill="#175183"/>
<rect x="441.25" y="199.50" width="7.50" height="6.25" fill="#c92234"/>
<text x="452.00" y="194.80" font-size="7.9" font-weight="normal" fill="#262626" textLength="43.75" lengthAdjust="spacingAndGlyphs"  stroke="#262626" stroke-width="0.1">Empty vector</text>
<text x="452.00" y="205.20" font-size="7.9" font-weight="normal" fill="#262626" textLength="19.25" lengthAdjust="spacingAndGlyphs"  stroke="#262626" stroke-width="0.1">Meis1</text>
<text x="8.5" y="360.8" font-size="11.4" font-weight="bold" fill="#000" stroke="#000" stroke-width="0.4" textLength="6.2" lengthAdjust="spacingAndGlyphs">E</text>
<text x="96.25" y="355.50" font-size="10.0" font-weight="bold" fill="#151515" textLength="67.50" lengthAdjust="spacingAndGlyphs" >NUP98-HOXA9</text>
<text x="91.8" y="366.5" font-size="10.0" font-weight="bold" fill="#151515" textLength="76.2" lengthAdjust="spacingAndGlyphs"><tspan font-style="italic">Meis1</tspan> expression</text>
<line x1="53.50" y1="381.80" x2="53.50" y2="471.70" stroke="#231f20" stroke-width="1.1"/>
<line x1="50.00" y1="471.20" x2="53.50" y2="471.20" stroke="#231f20" stroke-width="1"/>
<text x="43.50" y="474.20" font-size="8.6" fill="#262626" textLength="4.70" lengthAdjust="spacingAndGlyphs" stroke="#262626" stroke-width="0.1">0</text>
<line x1="50.00" y1="441.40" x2="53.50" y2="441.40" stroke="#231f20" stroke-width="1"/>
<text x="38.80" y="444.40" font-size="8.6" fill="#262626" textLength="9.40" lengthAdjust="spacingAndGlyphs" stroke="#262626" stroke-width="0.1">10</text>
<line x1="50.00" y1="411.60" x2="53.50" y2="411.60" stroke="#231f20" stroke-width="1"/>
<text x="38.80" y="414.60" font-size="8.6" fill="#262626" textLength="9.40" lengthAdjust="spacingAndGlyphs" stroke="#262626" stroke-width="0.1">20</text>
<line x1="50.00" y1="381.80" x2="53.50" y2="381.80" stroke="#231f20" stroke-width="1"/>
<text x="38.80" y="384.80" font-size="8.6" fill="#262626" textLength="9.40" lengthAdjust="spacingAndGlyphs" stroke="#262626" stroke-width="0.1">30</text>
<text transform="translate(16.04,433.50) rotate(-90)" x="-19.80" y="0" font-size="8.8" fill="#262626" textLength="39.60" lengthAdjust="spacingAndGlyphs" stroke="#262626" stroke-width="0.1">Fold change</text>
<text transform="translate(28.19,432.70) rotate(-90)" x="-36.00" y="0" font-size="8.8" fill="#262626" textLength="72.00" lengthAdjust="spacingAndGlyphs" stroke="#262626" stroke-width="0.1">normalized to GAPDH</text>
<line x1="53.00" y1="471.20" x2="206.25" y2="471.20" stroke="#231f20" stroke-width="1.45"/>
<rect x="69.60" y="466.20" width="7.70" height="1.60" fill="#777"/>
<rect x="66.20" y="467.80" width="15.00" height="3.40" fill="#c92234"/>
<line x1="85.80" y1="470.20" x2="93.80" y2="470.20" stroke="#222" stroke-width="1.3"/>
<line x1="122.40" y1="400.30" x2="122.40" y2="410.50" stroke="#5a5a5a" stroke-width="1.3"/>
<line x1="118.40" y1="400.30" x2="126.40" y2="400.30" stroke="#5a5a5a" stroke-width="1.3"/>
<rect x="114.50" y="410.50" width="14.90" height="60.70" fill="#c92234"/>
<line x1="137.60" y1="441.30" x2="137.60" y2="447.30" stroke="#5a5a5a" stroke-width="1.3"/>
<line x1="133.60" y1="441.30" x2="141.60" y2="441.30" stroke="#5a5a5a" stroke-width="1.3"/>
<rect x="130.90" y="447.30" width="14.70" height="23.90" fill="#e58a99"/>
<line x1="170.40" y1="432.00" x2="170.40" y2="435.00" stroke="#5a5a5a" stroke-width="1.3"/>
<line x1="166.40" y1="432.00" x2="174.40" y2="432.00" stroke="#5a5a5a" stroke-width="1.3"/>
<rect x="162.50" y="435.00" width="14.90" height="36.20" fill="#c92234"/>
<line x1="185.60" y1="452.50" x2="185.60" y2="454.50" stroke="#5a5a5a" stroke-width="1.3"/>
<line x1="181.60" y1="452.50" x2="189.60" y2="452.50" stroke="#5a5a5a" stroke-width="1.3"/>
<rect x="178.90" y="454.50" width="14.70" height="16.70" fill="#e58a99"/>
<text x="65.90" y="481.60" font-size="8.6" font-weight="normal" fill="#262626" textLength="30.20" lengthAdjust="spacingAndGlyphs" stroke="#262626" stroke-width="0.1">CRISPRa</text>
<text x="114.90" y="481.60" font-size="8.6" font-weight="normal" fill="#262626" textLength="30.20" lengthAdjust="spacingAndGlyphs" stroke="#262626" stroke-width="0.1">CRISPRa</text>
<text x="162.90" y="481.60" font-size="8.6" font-weight="normal" fill="#262626" textLength="30.20" lengthAdjust="spacingAndGlyphs" stroke="#262626" stroke-width="0.1">CRISPRa</text>
<text x="59.15" y="490.90" font-size="8.6" font-weight="normal" fill="#262626" textLength="43.70" lengthAdjust="spacingAndGlyphs" stroke="#262626" stroke-width="0.1">sgLuciferase</text>
<text x="112.10" y="490.90" font-size="8.6" font-weight="normal" fill="#262626" textLength="35.80" lengthAdjust="spacingAndGlyphs" stroke="#262626" stroke-width="0.1">sgMeis1-1</text>
<text x="160.10" y="490.90" font-size="8.6" font-weight="normal" fill="#262626" textLength="35.80" lengthAdjust="spacingAndGlyphs" stroke="#262626" stroke-width="0.1">sgMeis1-2</text>
<path d="M75.50,383.75 V380.50 H170.50 V383.75" stroke="#555" stroke-width="1.1" fill="none" />
<text x="115.00" y="379.46" font-size="8.5" fill="#2a2a2a" textLength="16.00" lengthAdjust="spacing" stroke="#2a2a2a" stroke-width="0.35">****</text>
<path d="M75.50,393.75 V390.75 H122.00 V393.75" stroke="#555" stroke-width="1.1" fill="none" />
<text x="90.75" y="390.21" font-size="8.5" fill="#2a2a2a" textLength="16.00" lengthAdjust="spacing" stroke="#2a2a2a" stroke-width="0.35">****</text>
<rect x="182.00" y="398.75" width="6.00" height="4.75" fill="#c92234"/>
<rect x="182.00" y="409.25" width="6.00" height="4.75" fill="#e58a99"/>
<text x="192.00" y="404.00" font-size="8.6" font-weight="normal" fill="#262626" textLength="21.80" lengthAdjust="spacingAndGlyphs"  stroke="#262626" stroke-width="0.1">DMSO</text>
<text x="192.00" y="414.00" font-size="8.6" font-weight="normal" fill="#262626" textLength="34.00" lengthAdjust="spacingAndGlyphs"  stroke="#262626" stroke-width="0.1">VTP50469</text>
<text x="247.7" y="360.7" font-size="11.4" font-weight="bold" fill="#000" stroke="#000" stroke-width="0.4" textLength="6.3" lengthAdjust="spacingAndGlyphs">F</text>
<text x="345.70" y="360.40" font-size="10.0" font-weight="bold" fill="#151515" textLength="67.80" lengthAdjust="spacingAndGlyphs" >NUP98-HOXA9</text>
<text x="302.30" y="383.50" font-size="10.0" font-weight="normal" fill="#1e1e1e" textLength="43.90" lengthAdjust="spacingAndGlyphs"  stroke="#1e1e1e" stroke-width="0.12">sgMeis1-1</text>
<text x="357.70" y="383.50" font-size="10.0" font-weight="normal" fill="#1e1e1e" textLength="43.80" lengthAdjust="spacingAndGlyphs"  stroke="#1e1e1e" stroke-width="0.12">sgMeis1-2</text>
<text x="409.20" y="383.50" font-size="10.0" font-weight="normal" fill="#1e1e1e" textLength="52.60" lengthAdjust="spacingAndGlyphs"  stroke="#1e1e1e" stroke-width="0.12">sgLuciferase</text>
<line x1="300.00" y1="388.80" x2="349.00" y2="388.80" stroke="#222" stroke-width="1.3"/>
<line x1="355.00" y1="388.80" x2="405.00" y2="388.80" stroke="#222" stroke-width="1.3"/>
<line x1="409.20" y1="388.80" x2="460.50" y2="388.80" stroke="#222" stroke-width="1.3"/>
<text x="301.20" y="400.80" font-size="10.0" font-weight="normal" fill="#1e1e1e" textLength="27.60" lengthAdjust="spacingAndGlyphs"  stroke="#1e1e1e" stroke-width="0.12">DMSO</text>
<text x="334.00" y="400.80" font-size="10.0" font-weight="normal" fill="#1e1e1e" textLength="15.60" lengthAdjust="spacingAndGlyphs"  stroke="#1e1e1e" stroke-width="0.12">VTP</text>
<text x="355.40" y="400.80" font-size="10.0" font-weight="normal" fill="#1e1e1e" textLength="28.10" lengthAdjust="spacingAndGlyphs"  stroke="#1e1e1e" stroke-width="0.12">DMSO</text>
<text x="388.90" y="400.80" font-size="10.0" font-weight="normal" fill="#1e1e1e" textLength="16.10" lengthAdjust="spacingAndGlyphs"  stroke="#1e1e1e" stroke-width="0.12">VTP</text>
<text x="411.00" y="400.80" font-size="10.0" font-weight="normal" fill="#1e1e1e" textLength="28.20" lengthAdjust="spacingAndGlyphs"  stroke="#1e1e1e" stroke-width="0.12">DMSO</text>
<text x="444.30" y="400.80" font-size="10.0" font-weight="normal" fill="#1e1e1e" textLength="16.20" lengthAdjust="spacingAndGlyphs"  stroke="#1e1e1e" stroke-width="0.12">VTP</text>
<rect x="295.00" y="406.70" width="169.00" height="24.10" fill="#eeeef1"/>
<rect x="293.50" y="435.20" width="172.50" height="22.00" fill="#eeeef1"/>
<path d="M300.20,418.60 C300.20,413.72 301.95,413.95 303.70,413.95 Q311.75,414.65 319.80,413.95 C321.55,413.95 323.30,413.72 323.30,418.60 C323.30,423.48 321.55,423.25 319.80,423.25 Q311.75,423.25 303.70,423.25 C301.95,423.25 300.20,423.48 300.20,418.60 Z" fill="#000" fill-opacity="1.0" filter="url(#bl1)"/>
<path d="M327.00,419.60 C327.00,416.19 328.75,416.35 330.50,416.35 Q338.25,416.84 346.00,416.35 C347.75,416.35 349.50,416.19 349.50,419.60 C349.50,423.01 347.75,422.85 346.00,422.85 Q338.25,422.85 330.50,422.85 C328.75,422.85 327.00,423.01 327.00,419.60 Z" fill="#505050" fill-opacity="0.85" filter="url(#bl1)"/>
<path d="M354.00,420.10 C354.00,415.22 355.75,415.45 357.50,415.45 Q365.25,416.15 373.00,415.45 C374.75,415.45 376.50,415.22 376.50,420.10 C376.50,424.98 374.75,424.75 373.00,424.75 Q365.25,424.75 357.50,424.75 C355.75,424.75 354.00,424.98 354.00,420.10 Z" fill="#000" fill-opacity="1.0" filter="url(#bl1)"/>
<path d="M381.50,421.00 C381.50,417.32 383.25,417.50 385.00,417.50 Q392.50,418.02 400.00,417.50 C401.75,417.50 403.50,417.32 403.50,421.00 C403.50,424.68 401.75,424.50 400.00,424.50 Q392.50,424.50 385.00,424.50 C383.25,424.50 381.50,424.68 381.50,421.00 Z" fill="#333" fill-opacity="0.9" filter="url(#bl1)"/>
<path d="M409.00,421.30 C409.00,418.15 410.75,418.30 412.50,418.30 Q419.75,418.75 427.00,418.30 C428.75,418.30 430.50,418.15 430.50,421.30 C430.50,424.45 428.75,424.30 427.00,424.30 Q419.75,424.30 412.50,424.30 C410.75,424.30 409.00,424.45 409.00,421.30 Z" fill="#5a5a5a" fill-opacity="0.8" filter="url(#bl1)"/>
<path d="M436.00,421.50 C436.00,419.40 437.75,419.50 439.50,419.50 Q447.00,419.80 454.50,419.50 C456.25,419.50 458.00,419.40 458.00,421.50 C458.00,423.60 456.25,423.50 454.50,423.50 Q447.00,423.50 439.50,423.50 C437.75,423.50 436.00,423.60 436.00,421.50 Z" fill="#aaa" fill-opacity="0.45" filter="url(#bl2)"/>
<path d="M294.40,446.20 C294.40,442.00 296.15,442.20 297.90,442.20 Q307.40,442.80 316.90,442.20 C318.65,442.20 320.40,442.00 320.40,446.20 C320.40,450.40 318.65,450.20 316.90,450.20 Q307.40,450.20 297.90,450.20 C296.15,450.20 294.40,450.40 294.40,446.20 Z" fill="#000" fill-opacity="1.0" filter="url(#bl1)"/>
<path d="M323.80,446.50 C323.80,442.30 325.55,442.50 327.30,442.50 Q336.30,443.10 345.30,442.50 C347.05,442.50 348.80,442.30 348.80,446.50 C348.80,450.70 347.05,450.50 345.30,450.50 Q336.30,450.50 327.30,450.50 C325.55,450.50 323.80,450.70 323.80,446.50 Z" fill="#000" fill-opacity="1.0" filter="url(#bl1)"/>
<path d="M352.00,447.00 C352.00,442.80 353.75,443.00 355.50,443.00 Q364.85,443.60 374.20,443.00 C375.95,443.00 377.70,442.80 377.70,447.00 C377.70,451.20 375.95,451.00 374.20,451.00 Q364.85,451.00 355.50,451.00 C353.75,451.00 352.00,451.20 352.00,447.00 Z" fill="#000" fill-opacity="1.0" filter="url(#bl1)"/>
<path d="M380.60,448.00 C380.60,443.80 382.35,444.00 384.10,444.00 Q392.60,444.60 401.10,444.00 C402.85,444.00 404.60,443.80 404.60,448.00 C404.60,452.20 402.85,452.00 401.10,452.00 Q392.60,452.00 384.10,452.00 C382.35,452.00 380.60,452.20 380.60,448.00 Z" fill="#000" fill-opacity="1.0" filter="url(#bl1)"/>
<path d="M410.40,448.00 C410.40,443.80 412.15,444.00 413.90,444.00 Q422.90,444.60 431.90,444.00 C433.65,444.00 435.40,443.80 435.40,448.00 C435.40,452.20 433.65,452.00 431.90,452.00 Q422.90,452.00 413.90,452.00 C412.15,452.00 410.40,452.20 410.40,448.00 Z" fill="#000" fill-opacity="1.0" filter="url(#bl1)"/>
<path d="M439.20,447.60 C439.20,443.40 440.95,443.60 442.70,443.60 Q452.20,443.70 461.70,442.60 C463.45,442.60 465.20,442.40 465.20,446.60 C465.20,450.80 463.45,450.60 461.70,450.60 Q452.20,451.10 442.70,451.60 C440.95,451.60 439.20,451.80 439.20,447.60 Z" fill="#000" fill-opacity="1.0" filter="url(#bl1)"/>
<text x="470.90" y="421.50" font-size="10.0" font-weight="normal" fill="#1e1e1e" textLength="23.50" lengthAdjust="spacingAndGlyphs"  stroke="#1e1e1e" stroke-width="0.12">Meis1</text>
<text x="472.20" y="448.70" font-size="10.0" font-weight="normal" fill="#1e1e1e" textLength="21.90" lengthAdjust="spacingAndGlyphs"  stroke="#1e1e1e" stroke-width="0.12">Actin</text>
<text x="8.75" y="530.0" font-size="11.4" font-weight="bold" fill="#000" stroke="#000" stroke-width="0.4" textLength="8.4" lengthAdjust="spacingAndGlyphs">G</text>
<text x="98.30" y="530.40" font-size="10.0" font-weight="bold" fill="#151515" textLength="67.30" lengthAdjust="spacingAndGlyphs" >NUP98-HOXA9</text>
<line x1="53.25" y1="540.00" x2="53.25" y2="642.10" stroke="#231f20" stroke-width="1.1"/>
<line x1="50.20" y1="641.60" x2="53.25" y2="641.60" stroke="#231f20" stroke-width="1"/>
<text x="37.80" y="644.10" font-size="9.3" fill="#262626" textLength="10.60" lengthAdjust="spacingAndGlyphs" stroke="#262626" stroke-width="0.1">0.0</text>
<line x1="50.20" y1="616.20" x2="53.25" y2="616.20" stroke="#231f20" stroke-width="1"/>
<text x="37.80" y="618.70" font-size="9.3" fill="#262626" textLength="10.60" lengthAdjust="spacingAndGlyphs" stroke="#262626" stroke-width="0.1">0.5</text>
<line x1="50.20" y1="590.80" x2="53.25" y2="590.80" stroke="#231f20" stroke-width="1"/>
<text x="37.80" y="593.30" font-size="9.3" fill="#262626" textLength="10.60" lengthAdjust="spacingAndGlyphs" stroke="#262626" stroke-width="0.1">1.0</text>
<line x1="50.20" y1="565.40" x2="53.25" y2="565.40" stroke="#231f20" stroke-width="1"/>
<text x="37.80" y="567.90" font-size="9.3" fill="#262626" textLength="10.60" lengthAdjust="spacingAndGlyphs" stroke="#262626" stroke-width="0.1">1.5</text>
<line x1="50.20" y1="540.00" x2="53.25" y2="540.00" stroke="#231f20" stroke-width="1"/>
<text x="37.80" y="542.50" font-size="9.3" fill="#262626" textLength="10.60" lengthAdjust="spacingAndGlyphs" stroke="#262626" stroke-width="0.1">2.0</text>
<text transform="translate(16.32,590.50) rotate(-90)" x="-19.00" y="0" font-size="9.3" fill="#262626" textLength="38.00" lengthAdjust="spacingAndGlyphs" stroke="#262626" stroke-width="0.1">% response</text>
<text transform="translate(27.42,590.50) rotate(-90)" x="-37.50" y="0" font-size="9.3" fill="#262626" textLength="75.00" lengthAdjust="spacingAndGlyphs" stroke="#262626" stroke-width="0.1">(normalized to DMSO)</text>
<line x1="52.75" y1="641.60" x2="211.00" y2="641.60" stroke="#231f20" stroke-width="1.45"/>
<line x1="53.25" y1="641.60" x2="53.25" y2="644.60" stroke="#231f20" stroke-width="1"/>
<line x1="75.75" y1="641.60" x2="75.75" y2="644.60" stroke="#231f20" stroke-width="1"/>
<text x="67.55" y="655.40" font-size="9.3" font-weight="normal" fill="#262626" textLength="8.60" lengthAdjust="spacingAndGlyphs"  stroke="#262626" stroke-width="0.1">10</text>
<text x="76.15" y="652.50" font-size="6.882000000000001" font-weight="normal" fill="#262626" textLength="7.80" lengthAdjust="spacingAndGlyphs"  stroke="#262626" stroke-width="0.1">-10</text>
<line x1="98.25" y1="641.60" x2="98.25" y2="644.60" stroke="#231f20" stroke-width="1"/>
<text x="91.35" y="655.40" font-size="9.3" font-weight="normal" fill="#262626" textLength="8.60" lengthAdjust="spacingAndGlyphs"  stroke="#262626" stroke-width="0.1">10</text>
<text x="99.95" y="652.50" font-size="6.882000000000001" font-weight="normal" fill="#262626" textLength="5.20" lengthAdjust="spacingAndGlyphs"  stroke="#262626" stroke-width="0.1">-9</text>
<line x1="120.75" y1="641.60" x2="120.75" y2="644.60" stroke="#231f20" stroke-width="1"/>
<text x="113.85" y="655.40" font-size="9.3" font-weight="normal" fill="#262626" textLength="8.60" lengthAdjust="spacingAndGlyphs"  stroke="#262626" stroke-width="0.1">10</text>
<text x="122.45" y="652.50" font-size="6.882000000000001" font-weight="normal" fill="#262626" textLength="5.20" lengthAdjust="spacingAndGlyphs"  stroke="#262626" stroke-width="0.1">-8</text>
<line x1="143.25" y1="641.60" x2="143.25" y2="644.60" stroke="#231f20" stroke-width="1"/>
<text x="136.35" y="655.40" font-size="9.3" font-weight="normal" fill="#262626" textLength="8.60" lengthAdjust="spacingAndGlyphs"  stroke="#262626" stroke-width="0.1">10</text>
<text x="144.95" y="652.50" font-size="6.882000000000001" font-weight="normal" fill="#262626" textLength="5.20" lengthAdjust="spacingAndGlyphs"  stroke="#262626" stroke-width="0.1">-7</text>
<line x1="165.75" y1="641.60" x2="165.75" y2="644.60" stroke="#231f20" stroke-width="1"/>
<text x="158.85" y="655.40" font-size="9.3" font-weight="normal" fill="#262626" textLength="8.60" lengthAdjust="spacingAndGlyphs"  stroke="#262626" stroke-width="0.1">10</text>
<text x="167.45" y="652.50" font-size="6.882000000000001" font-weight="normal" fill="#262626" textLength="5.20" lengthAdjust="spacingAndGlyphs"  stroke="#262626" stroke-width="0.1">-6</text>
<line x1="188.25" y1="641.60" x2="188.25" y2="644.60" stroke="#231f20" stroke-width="1"/>
<text x="181.35" y="655.40" font-size="9.3" font-weight="normal" fill="#262626" textLength="8.60" lengthAdjust="spacingAndGlyphs"  stroke="#262626" stroke-width="0.1">10</text>
<text x="189.95" y="652.50" font-size="6.882000000000001" font-weight="normal" fill="#262626" textLength="5.20" lengthAdjust="spacingAndGlyphs"  stroke="#262626" stroke-width="0.1">-5</text>
<line x1="210.75" y1="641.60" x2="210.75" y2="644.60" stroke="#231f20" stroke-width="1"/>
<text x="203.85" y="655.40" font-size="9.3" font-weight="normal" fill="#262626" textLength="8.60" lengthAdjust="spacingAndGlyphs"  stroke="#262626" stroke-width="0.1">10</text>
<text x="212.45" y="652.50" font-size="6.882000000000001" font-weight="normal" fill="#262626" textLength="5.20" lengthAdjust="spacingAndGlyphs"  stroke="#262626" stroke-width="0.1">-4</text>
<text x="101.80" y="669.70" font-size="9.8" font-weight="normal" fill="#262626" textLength="61.00" lengthAdjust="spacingAndGlyphs"  stroke="#262626" stroke-width="0.1">Log[VTP50469], M</text>
<path d="M69.00,565.80 C74.17,565.67 90.25,565.55 100.00,565.00 C109.75,564.45 120.83,564.00 127.50,562.50 C134.17,561.00 136.25,557.62 140.00,556.00 C143.75,554.38 145.83,553.42 150.00,552.80 C154.17,552.18 157.58,552.40 165.00,552.30 C172.42,552.20 189.58,552.22 194.50,552.20" stroke="#c8203a" stroke-width="1.4" fill="none" />
<path d="M69.00,587.40 C74.17,587.33 90.25,587.40 100.00,587.00 C109.75,586.60 120.83,586.67 127.50,585.00 C134.17,583.33 135.92,579.13 140.00,577.00 C144.08,574.87 147.00,573.13 152.00,572.20 C157.00,571.27 162.92,571.55 170.00,571.40 C177.08,571.25 190.42,571.32 194.50,571.30" stroke="#1c5c97" stroke-width="1.4" fill="none" />
<path d="M69.00,579.20 C75.00,579.33 96.50,579.45 105.00,580.00 C113.50,580.55 115.83,581.04 120.00,582.50 C124.17,583.96 126.67,584.58 130.00,588.75 C133.33,592.92 137.29,601.88 140.00,607.50 C142.71,613.12 144.17,618.33 146.25,622.50 C148.33,626.67 150.21,630.29 152.50,632.50 C154.79,634.71 156.25,635.12 160.00,635.75 C163.75,636.38 169.25,636.21 175.00,636.30 C180.75,636.39 191.25,636.30 194.50,636.30" stroke="#3db549" stroke-width="1.4" fill="none" />
<rect x="66.50" y="568.00" width="5.00" height="5.00" fill="#c8203a"/>
<rect x="89.00" y="563.50" width="5.00" height="5.00" fill="#c8203a"/>
<rect x="102.50" y="557.00" width="5.00" height="5.00" fill="#c8203a"/>
<rect x="125.00" y="558.25" width="5.00" height="5.00" fill="#c8203a"/>
<rect x="147.00" y="541.75" width="5.00" height="5.00" fill="#c8203a"/>
<rect x="170.00" y="550.00" width="5.00" height="5.00" fill="#c8203a"/>
<rect x="192.00" y="554.25" width="5.00" height="5.00" fill="#c8203a"/>
<line x1="149.50" y1="541.00" x2="149.50" y2="547.50" stroke="#c8203a" stroke-width="1"/>
<line x1="147.00" y1="541.00" x2="152.00" y2="541.00" stroke="#c8203a" stroke-width="1"/>
<line x1="147.00" y1="547.50" x2="152.00" y2="547.50" stroke="#c8203a" stroke-width="1"/>
<circle cx="69" cy="587.5" r="2.6" fill="#1c5c97"/>
<circle cx="91.5" cy="586.5" r="2.6" fill="#1c5c97"/>
<circle cx="105" cy="581.25" r="2.6" fill="#1c5c97"/>
<circle cx="127.5" cy="583" r="2.6" fill="#1c5c97"/>
<circle cx="149.5" cy="567.5" r="2.6" fill="#1c5c97"/>
<circle cx="172.5" cy="576.25" r="2.6" fill="#1c5c97"/>
<circle cx="194.5" cy="571.25" r="2.6" fill="#1c5c97"/>
<line x1="194.50" y1="631.80" x2="194.50" y2="646.20" stroke="#3db549" stroke-width="1"/>
<line x1="192.00" y1="631.80" x2="197.00" y2="631.80" stroke="#3db549" stroke-width="1"/>
<line x1="192.00" y1="646.20" x2="197.00" y2="646.20" stroke="#3db549" stroke-width="1"/>
<path d="M66.10,581.70 H71.90 L69.00,576.60 Z" fill="#3db549"/>
<path d="M88.60,582.95 H94.40 L91.50,577.85 Z" fill="#3db549"/>
<path d="M102.10,580.45 H107.90 L105.00,575.35 Z" fill="#3db549"/>
<path d="M124.60,590.95 H130.40 L127.50,585.85 Z" fill="#3db549"/>
<path d="M146.60,627.95 H152.40 L149.50,622.85 Z" fill="#3db549"/>
<path d="M169.60,635.95 H175.40 L172.50,630.85 Z" fill="#3db549"/>
<path d="M191.60,641.70 H197.40 L194.50,636.60 Z" fill="#3db549"/>
<line x1="218.00" y1="543.20" x2="226.60" y2="543.20" stroke="#c8203a" stroke-width="1.6"/>
<rect x="219.50" y="540.40" width="5.60" height="5.60" fill="#c8203a"/>
<line x1="218.00" y1="553.10" x2="226.60" y2="553.10" stroke="#1c5c97" stroke-width="1.6"/>
<circle cx="222.3" cy="553.1" r="3" fill="#1c5c97"/>
<line x1="218.00" y1="563.90" x2="226.60" y2="563.90" stroke="#3db549" stroke-width="1.6"/>
<path d="M219,566.6 H225.6 L222.3,560.6 Z" fill="#3db549"/>
<text x="231.50" y="545.20" font-size="8.2" font-weight="normal" fill="#333" textLength="80.50" lengthAdjust="spacingAndGlyphs"  stroke="#333" stroke-width="0.1">NUP98-HOXA9 sgMeis1-1</text>
<text x="231.50" y="555.60" font-size="8.2" font-weight="normal" fill="#333" textLength="80.50" lengthAdjust="spacingAndGlyphs"  stroke="#333" stroke-width="0.1">NUP98-HOXA9 sgMeis1-2</text>
<text x="231.50" y="566.00" font-size="8.2" font-weight="normal" fill="#333" textLength="93.20" lengthAdjust="spacingAndGlyphs"  stroke="#333" stroke-width="0.1">NUP98-HOXA9 sgLuciferase</text><rect x="0.58" y="0.58" width="518.84" height="678.84" fill="none" stroke="#110e0e" stroke-width="1.16"/>
</svg></body></html>
